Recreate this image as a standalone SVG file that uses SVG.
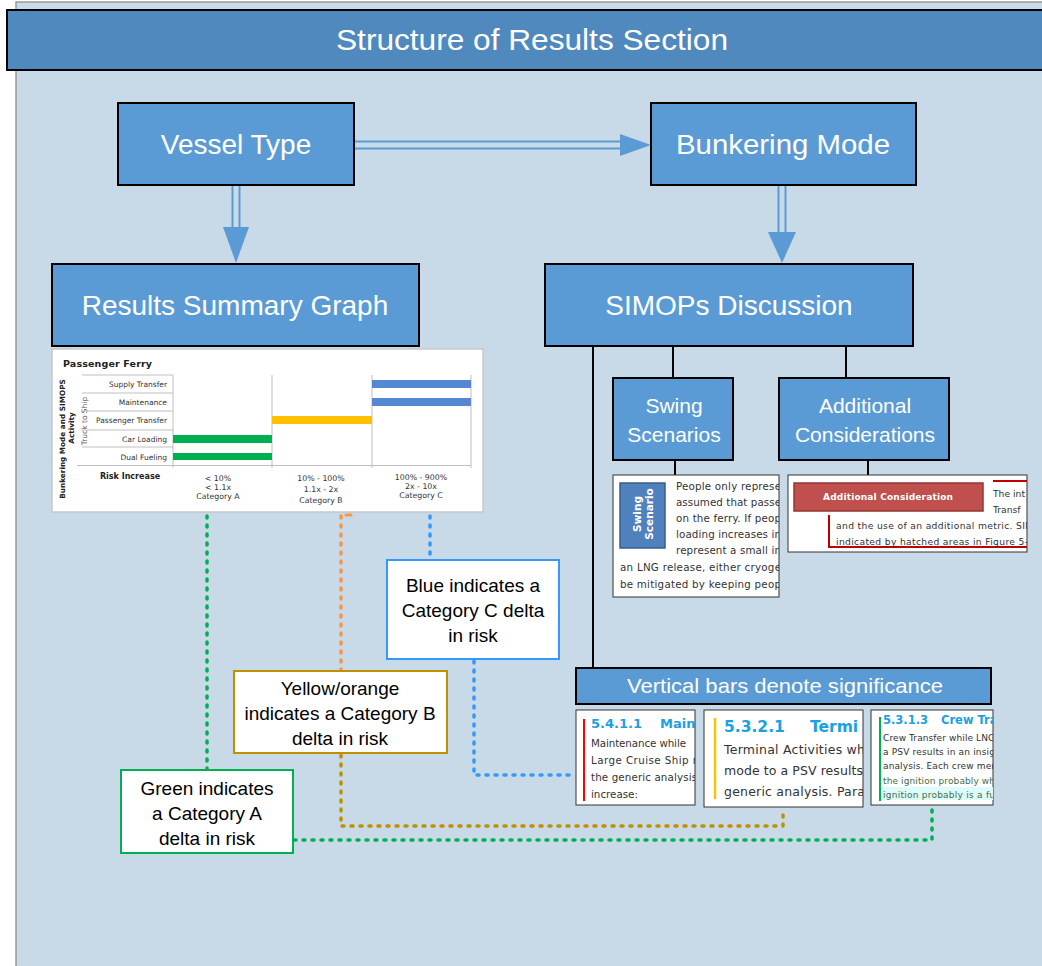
<svg xmlns="http://www.w3.org/2000/svg" width="1042" height="966" viewBox="0 0 1042 966">
<style>
.box{fill:#5B9BD5;stroke:#000;stroke-width:2}
.lbl{font-family:"Liberation Sans",Arial,sans-serif;fill:#fff;text-anchor:middle}
.big{font-size:28px}
.mid{font-size:21px}
.call{font-family:"Liberation Sans",Arial,sans-serif;font-size:19px;fill:#000;text-anchor:middle}
.ver{font-family:"DejaVu Sans",Verdana,sans-serif}
.snip{fill:#fff;stroke:#333;stroke-width:1}
.dot{fill:none;stroke-width:3.5;stroke-linecap:round;stroke-dasharray:2 7}
.conn{stroke:#000;stroke-width:2;fill:none}
.dbl{stroke:#5B9BD5;stroke-width:2;fill:none}
.grid{stroke:#BFBFBF;stroke-width:1;fill:none}
.rowl{font-family:"DejaVu Sans",Verdana,sans-serif;font-size:7.5px;fill:#333;text-anchor:end}
.cat{font-family:"DejaVu Sans",Verdana,sans-serif;font-size:7.8px;fill:#333;text-anchor:middle}
.st{font-family:"DejaVu Sans",Verdana,sans-serif;fill:#333}
.hd{font-family:"DejaVu Sans",Verdana,sans-serif;font-weight:bold;fill:#1BA1E2}
</style>
<defs>
<clipPath id="c1"><rect x="613" y="475" width="166" height="122"/></clipPath>
<clipPath id="c2"><rect x="788" y="475" width="239" height="77"/></clipPath>
<clipPath id="c3"><rect x="576" y="710" width="119" height="95"/></clipPath>
<clipPath id="c4"><rect x="704" y="710" width="159" height="97"/></clipPath>
<clipPath id="c5"><rect x="871" y="710" width="122" height="95"/></clipPath>
</defs>
<rect x="0" y="0" width="1042" height="966" fill="#fff"/>
<rect x="16" y="2" width="1030" height="970" fill="#C8DAE8" stroke="#999" stroke-width="1.5"/>

<g id="title">
<rect x="7" y="10" width="1040" height="60" fill="#4F89BD" stroke="#000" stroke-width="2"/>
<text class="lbl" font-size="29" x="532" y="50" textLength="392" lengthAdjust="spacingAndGlyphs">Structure of Results Section</text>
</g>

<g id="connectors">
<line class="dbl" x1="355" y1="141.5" x2="622" y2="141.5"/>
<line class="dbl" x1="355" y1="148.5" x2="622" y2="148.5"/>
<polygon points="620,134 651,145 620,156" fill="#5B9BD5"/>
<line class="dbl" x1="232.5" y1="186" x2="232.5" y2="228"/>
<line class="dbl" x1="239.5" y1="186" x2="239.5" y2="228"/>
<polygon points="223,227 249,227 236,263" fill="#5B9BD5"/>
<line class="dbl" x1="778.5" y1="186" x2="778.5" y2="233"/>
<line class="dbl" x1="785.5" y1="186" x2="785.5" y2="233"/>
<polygon points="768,232 796,232 782,263" fill="#5B9BD5"/>
<line class="conn" x1="593" y1="347" x2="593" y2="668"/>
<line class="conn" x1="673" y1="347" x2="673" y2="378"/>
<line class="conn" x1="846" y1="347" x2="846" y2="378"/>
<line class="conn" x1="675" y1="461" x2="675" y2="476"/>
<line class="conn" x1="868" y1="461" x2="868" y2="476"/>
<polyline class="dot" stroke="#00B050" points="207,516 207,769"/>
<polyline class="dot" stroke="#00B050" points="294,840 932,840 932,810"/>
<polyline class="dot" stroke="#F79646" points="341,516 341,670"/>
<line x1="346" y1="515" x2="351" y2="515" stroke="#F79646" stroke-width="3" stroke-linecap="round"/>
<polyline class="dot" stroke="#BF9000" points="341,755 341,826 783,826 783,809"/>
<polyline class="dot" stroke="#3399FF" points="430,516 430,559"/>
<polyline class="dot" stroke="#3399FF" points="474,661 474,775 576,775"/>
</g>

<g id="vessel-type">
<rect class="box" x="118" y="103" width="236" height="82"/>
<text class="lbl big" x="236" y="154">Vessel Type</text>
</g>
<g id="bunkering-mode">
<rect class="box" x="651" y="103" width="265" height="82"/>
<text class="lbl big" x="783" y="154" textLength="214" lengthAdjust="spacingAndGlyphs">Bunkering Mode</text>
</g>
<g id="results-summary-graph">
<rect class="box" x="52" y="264" width="367" height="82"/>
<text class="lbl big" x="235" y="315">Results Summary Graph</text>
</g>
<g id="simops-discussion">
<rect class="box" x="545" y="264" width="368" height="82"/>
<text class="lbl big" x="729" y="315">SIMOPs Discussion</text>
</g>
<g id="swing-scenarios">
<rect class="box" x="613" y="378" width="120" height="82"/>
<text class="lbl mid" x="674" y="413">Swing</text>
<text class="lbl mid" x="674" y="442">Scenarios</text>
</g>
<g id="additional-considerations">
<rect class="box" x="779" y="378" width="170" height="82"/>
<text class="lbl mid" x="865" y="413">Additional</text>
<text class="lbl mid" x="865" y="442">Considerations</text>
</g>
<g id="vertical-bars">
<rect class="box" x="576" y="668" width="415" height="36"/>
<text class="lbl" x="785" y="693" font-size="21" textLength="316" lengthAdjust="spacingAndGlyphs">Vertical bars denote significance</text>
</g>

<g id="graph">
<rect x="52" y="349" width="431" height="163" fill="#fff" stroke="#C8C8C8" stroke-width="1.5"/>
<text class="ver" x="63" y="367" font-size="9.5" font-weight="bold" fill="#222" textLength="89" lengthAdjust="spacing">Passenger  Ferry</text>
<text class="ver" transform="translate(65,439) rotate(-90)" font-size="7.3" font-weight="bold" fill="#222" text-anchor="middle">Bunkering Mode and SIMOPS</text>
<text class="ver" transform="translate(74,428) rotate(-90)" font-size="7.3" font-weight="bold" fill="#222" text-anchor="middle">Activity</text>
<text class="ver" transform="translate(87,421) rotate(-90)" font-size="7.5" fill="#6A4A5A" text-anchor="middle">Truck to Ship</text>
<g class="grid">
<line x1="82" y1="375" x2="173" y2="375"/>
<line x1="82" y1="393" x2="173" y2="393"/>
<line x1="82" y1="411" x2="173" y2="411"/>
<line x1="82" y1="430" x2="173" y2="430"/>
<line x1="82" y1="447" x2="173" y2="447"/>
<line x1="77" y1="465.5" x2="471" y2="465.5"/>
<line x1="173" y1="375" x2="173" y2="468"/>
<line x1="272" y1="375" x2="272" y2="468"/>
<line x1="372" y1="375" x2="372" y2="468"/>
<line x1="471" y1="375" x2="471" y2="468"/>
</g>
<text class="rowl" x="167" y="387">Supply Transfer</text>
<text class="rowl" x="167" y="405">Maintenance</text>
<text class="rowl" x="167" y="423">Passenger Transfer</text>
<text class="rowl" x="167" y="442">Car Loading</text>
<text class="rowl" x="167" y="460">Dual Fueling</text>
<rect x="372" y="380" width="99" height="8" fill="#5588D0"/>
<rect x="372" y="398" width="99" height="8" fill="#5588D0"/>
<rect x="272" y="416" width="100" height="8" fill="#FFC000"/>
<rect x="173" y="435" width="99" height="8" fill="#00B050"/>
<rect x="173" y="453" width="99" height="7" fill="#00B050"/>
<text class="ver" x="130" y="479" font-size="8" font-weight="bold" fill="#222" text-anchor="middle">Risk Increase</text>
<text class="cat" x="218" y="481">&lt; 10%</text>
<text class="cat" x="218" y="490">&lt; 1.1x</text>
<text class="cat" x="218" y="499">Category A</text>
<text class="cat" x="321" y="481">10% - 100%</text>
<text class="cat" x="321" y="492">1.1x - 2x</text>
<text class="cat" x="321" y="503">Category B</text>
<text class="cat" x="421" y="480">100% - 900%</text>
<text class="cat" x="421" y="489">2x - 10x</text>
<text class="cat" x="421" y="498">Category C</text>
</g>

<g id="swing-snippet">
<rect class="snip" x="613" y="475" width="166" height="122"/>
<g clip-path="url(#c1)">
<rect x="620" y="483" width="45" height="65" fill="#4F81BD" stroke="#385D8A" stroke-width="1.5"/>
<text class="ver" transform="translate(641,514) rotate(-90)" font-size="10.5" font-weight="bold" fill="#fff" text-anchor="middle">Swing</text>
<text class="ver" transform="translate(653,514) rotate(-90)" font-size="10.5" font-weight="bold" fill="#fff" text-anchor="middle">Scenario</text>
<g class="st" font-size="10.3">
<text x="676" y="490" textLength="105" lengthAdjust="spacing">People only represe</text>
<text x="676" y="506" textLength="105" lengthAdjust="spacing">assumed that passe</text>
<text x="676" y="522" textLength="105" lengthAdjust="spacing">on the ferry.  If peop</text>
<text x="676" y="538" textLength="105" lengthAdjust="spacing">loading increases  in</text>
<text x="676" y="554" textLength="105" lengthAdjust="spacing">represent  a small  in</text>
<text x="620" y="571" textLength="161" lengthAdjust="spacing">an LNG release,  either cryoge</text>
<text x="620" y="588" textLength="161" lengthAdjust="spacing">be mitigated by keeping  peop</text>
</g>
</g>
</g>

<g id="additional-snippet">
<rect class="snip" x="788" y="475" width="239" height="77"/>
<g clip-path="url(#c2)">
<rect x="794" y="483" width="189" height="28" fill="#C0504D" stroke="#943634" stroke-width="1.5"/>
<text class="ver" x="888" y="500" font-size="9" font-weight="bold" fill="#fff" text-anchor="middle" textLength="130" lengthAdjust="spacing">Additional  Consideration</text>
<line x1="993" y1="481" x2="1030" y2="481" stroke="#C00000" stroke-width="2"/>
<polyline points="829,515 829,547 1030,547" fill="none" stroke="#C00000" stroke-width="2"/>
<g class="st" font-size="9.2">
<text x="993" y="497">The int</text>
<text x="993" y="513">Transf</text>
<text x="836" y="529" textLength="192" lengthAdjust="spacing">and the use of an additional  metric. SII</text>
<text x="836" y="545" textLength="192" lengthAdjust="spacing">indicated by hatched areas in Figure 5-</text>
</g>
</g>
</g>

<g id="snippet-1">
<rect class="snip" x="576" y="710" width="119" height="95"/>
<g clip-path="url(#c3)">
<line x1="584" y1="719" x2="584" y2="801" stroke="#FF0000" stroke-width="2"/>
<text class="hd" y="728" font-size="13"><tspan x="591">5.4.1.1</tspan><tspan x="660">Main</tspan></text>
<g class="st" font-size="10.3">
<text x="591" y="747" textLength="95" lengthAdjust="spacing">Maintenance  while</text>
<text x="591" y="764" textLength="106" lengthAdjust="spacing">Large Cruise Ship r</text>
<text x="591" y="781" textLength="106" lengthAdjust="spacing">the generic analysis</text>
<text x="591" y="798">increase:</text>
</g>
</g>
</g>

<g id="snippet-2">
<rect class="snip" x="704" y="710" width="159" height="97"/>
<g clip-path="url(#c4)">
<line x1="715" y1="718" x2="715" y2="799" stroke="#FFC000" stroke-width="2.5"/>
<text class="hd" y="732" font-size="15.5"><tspan x="724">5.3.2.1</tspan><tspan x="810">Termi</tspan></text>
<g class="st" font-size="12.5">
<text x="724" y="754" textLength="141" lengthAdjust="spacing">Terminal Activities wh</text>
<text x="724" y="775" textLength="139" lengthAdjust="spacing">mode to a PSV results</text>
<text x="724" y="796" textLength="141" lengthAdjust="spacing">generic analysis.  Para</text>
</g>
</g>
</g>

<g id="snippet-3">
<rect class="snip" x="871" y="710" width="122" height="95" stroke="#999"/>
<g clip-path="url(#c5)">
<rect x="882" y="787" width="112" height="13" fill="#DDFBFB"/>
<line x1="880" y1="717" x2="880" y2="801" stroke="#00B050" stroke-width="2"/>
<text class="hd" y="724" font-size="11.5"><tspan x="883">5.3.1.3</tspan><tspan x="941">Crew Tra</tspan></text>
<g class="st" font-size="9">
<text x="883" y="741" textLength="112" lengthAdjust="spacing">Crew Transfer while LNG</text>
<text x="883" y="755" textLength="112" lengthAdjust="spacing">a PSV results in an insig</text>
<text x="883" y="769" textLength="112" lengthAdjust="spacing">analysis.  Each crew mer</text>
<text x="883" y="784" fill="#4A6A4A" textLength="112" lengthAdjust="spacing">the ignition probably wh</text>
<text x="883" y="798" fill="#4A6A4A" textLength="112" lengthAdjust="spacing">ignition probably is a fu</text>
</g>
</g>
</g>

<g id="blue-callout">
<rect x="387" y="560" width="172" height="99" fill="#fff" stroke="#3399FF" stroke-width="2"/>
<text class="call" x="473" y="592">Blue indicates a</text>
<text class="call" x="473" y="617">Category C delta</text>
<text class="call" x="473" y="642">in risk</text>
</g>
<g id="yellow-callout">
<rect x="234" y="671" width="213" height="82" fill="#fff" stroke="#BF9000" stroke-width="2"/>
<text class="call" x="340" y="695">Yellow/orange</text>
<text class="call" x="340" y="720">indicates a Category B</text>
<text class="call" x="340" y="745">delta in risk</text>
</g>
<g id="green-callout">
<rect x="121" y="770" width="172" height="83" fill="#fff" stroke="#00B050" stroke-width="2"/>
<text class="call" x="207" y="795">Green indicates</text>
<text class="call" x="207" y="820">a Category A</text>
<text class="call" x="207" y="845">delta in risk</text>
</g>
</svg>
